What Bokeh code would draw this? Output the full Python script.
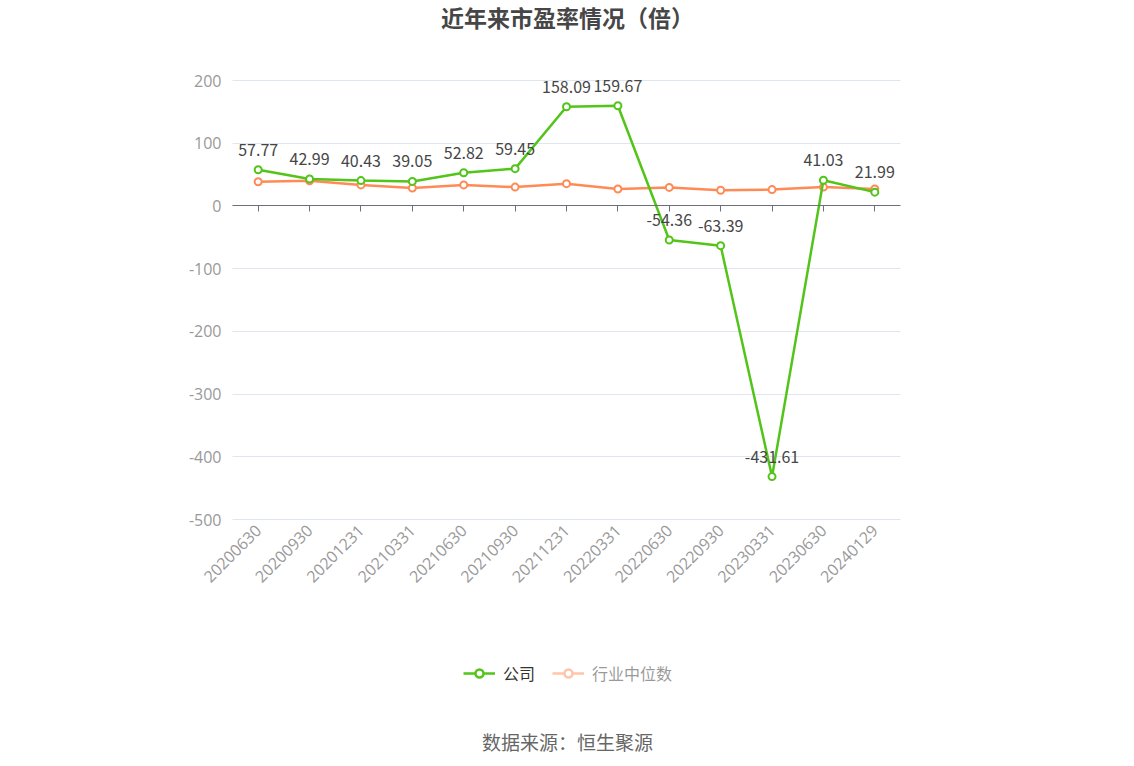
import math
from bokeh.plotting import figure
from bokeh.models import (Range1d, LinearAxis, FixedTicker, Legend, LegendItem,
                          Label, ColumnDataSource, Grid)
from bokeh.core.properties import value
from bokeh.embed import file_html
from bokeh.resources import INLINE

# ---- data ----
dates = ["20200630", "20200930", "20201231", "20210331", "20210630", "20210930",
         "20211231", "20220331", "20220630", "20220930", "20230331", "20230630",
         "20240129"]
company_pe = [57.77, 42.99, 40.43, 39.05, 52.82, 59.45, 158.09, 159.67,
              -54.36, -63.39, -431.61, 41.03, 21.99]
industry_pe = [38.5, 40.0, 33.5, 28.5, 33.5, 30.0, 35.5, 27.0, 29.5, 25.0, 26.0, 30.0, 27.0]
y_ticks = [-500, -400, -300, -200, -100, 0, 100, 200]
title_text = "近年来市盈率情况（倍）"
source_text = "数据来源：恒生聚源"
series_names = ["公司", "行业中位数"]

FONT = "Noto Sans CJK SC"
NUM_FONT = "Open Sans"
GREEN = "#52C41A"
ORANGE = "#FF8A55"
AXIS_GRAY = "#999999"

# ---- layout constants (pixels) ----
W, H = 1130, 760
PLOT_LEFT, PLOT_W = 232, 668
PLOT_TOP, PLOT_H = 80, 439
n = len(dates)
step = PLOT_W / n
x_start = -0.5 - PLOT_LEFT / step
x_end = x_start + W / step
Y_MIN, Y_MAX = min(y_ticks), max(y_ticks)
ppu = PLOT_H / (Y_MAX - Y_MIN)
y_end = Y_MAX + PLOT_TOP / ppu
y_start = y_end - H / ppu
cx = PLOT_LEFT + PLOT_W / 2

idx = list(range(n))
src = ColumnDataSource(dict(x=idx, company=company_pe, industry=industry_pe,
                            lbl=[f"{v:.2f}" for v in company_pe]))

p = figure(frame_width=W, frame_height=H, min_border=0,
           x_range=Range1d(x_start, x_end), y_range=Range1d(y_start, y_end),
           x_axis_location=None, y_axis_location=None,
           output_backend="svg", toolbar_location=None,
           background_fill_color="white", border_fill_color="white")
p.outline_line_color = None
# drop the default grids
p.center = [r for r in p.center if not isinstance(r, Grid)]
p.renderers = [r for r in p.renderers if not isinstance(r, Grid)]

# horizontal grid lines over the value region only
grid = Grid(dimension=1, ticker=FixedTicker(ticks=y_ticks), grid_line_color="#E0E6F1")
try:
    grid.cross_bounds = (-0.5, n - 0.5)
    p.add_layout(grid)
except Exception:
    p.segment(x0=-0.5, x1=n - 0.5, y0=y_ticks, y1=y_ticks, line_color="#E0E6F1")

# y axis (value labels)
y_axis = LinearAxis(fixed_location=-0.5, ticker=FixedTicker(ticks=y_ticks),
                    major_label_overrides={t: str(t) for t in y_ticks},
                    axis_line_color=None, major_tick_line_color=None,
                    minor_tick_line_color=None, major_tick_out=0, major_tick_in=0,
                    major_label_standoff=11, major_label_text_font=NUM_FONT,
                    major_label_text_font_size="16px", major_label_text_color=AXIS_GRAY)
p.add_layout(y_axis, "left")

# category labels along the bottom of the value region
cat_axis = LinearAxis(fixed_location=Y_MIN, ticker=FixedTicker(ticks=idx),
                      major_label_overrides={i: d for i, d in zip(idx, dates)},
                      axis_line_color=None, major_tick_line_color=None,
                      minor_tick_line_color=None, major_tick_out=0, major_tick_in=0,
                      major_label_standoff=8, major_label_orientation=math.pi / 4,
                      major_label_text_font=NUM_FONT, major_label_text_font_size="16px",
                      major_label_text_color=AXIS_GRAY)
p.add_layout(cat_axis, "below")

# zero axis line with ticks
zero_axis = LinearAxis(fixed_location=0, ticker=FixedTicker(ticks=idx), bounds=(-0.5, n - 0.5),
                       major_label_overrides={i: "" for i in idx},
                       axis_line_color="#6E7079", axis_line_width=1,
                       major_tick_line_color="#6E7079", major_tick_in=0, major_tick_out=6,
                       minor_tick_line_color=None, major_label_text_font_size="1px")
p.add_layout(zero_axis, "below")

# series
p.line("x", "industry", source=src, line_color=ORANGE, line_width=2.5)
p.scatter("x", "industry", source=src, marker="circle", size=7,
          fill_color="white", line_color=ORANGE, line_width=2)
p.line("x", "company", source=src, line_color=GREEN, line_width=2.5)
p.scatter("x", "company", source=src, marker="circle", size=7,
          fill_color="white", line_color=GREEN, line_width=2)

# hidden copies used only for legend icons
gl_h = p.line("x", "company", source=src, line_color=GREEN, line_width=2.5, visible=False)
gs_h = p.scatter("x", "company", source=src, marker="circle", size=13,
                 fill_color="white", line_color=GREEN, line_width=2.5, visible=False)
ol_h = p.line("x", "industry", source=src, line_color=ORANGE, line_width=2.5, visible=False)
os_h = p.scatter("x", "industry", source=src, marker="circle", size=13,
                 fill_color="white", line_color=ORANGE, line_width=2.5, visible=False)

# data labels
p.text("x", "company", text="lbl", source=src, y_offset=-14,
       text_align="center", text_baseline="bottom",
       text_font=value(FONT), text_font_size="16px", text_color="#464646")

leg_style = dict(orientation="horizontal", background_fill_alpha=0,
                 border_line_color=None, padding=0, margin=0, spacing=16,
                 glyph_width=32, glyph_height=20, label_standoff=8,
                 label_text_font=FONT, label_text_font_size="16px",
                 label_text_color="#333333", label_height=20)
legend1 = Legend(items=[LegendItem(label=series_names[0], renderers=[gl_h, gs_h])],
                 location=(463, H - 685), click_policy="none", **leg_style)
legend2 = Legend(items=[LegendItem(label=series_names[1], renderers=[ol_h, os_h])],
                 location=(552, H - 685), click_policy="hide",
                 inactive_fill_color="white", inactive_fill_alpha=0.5, **leg_style)
p.add_layout(legend1)
p.add_layout(legend2)

p.add_layout(Label(x=cx + 1, y=H - 16, x_units="screen", y_units="screen",
                   text=title_text, text_align="center", text_baseline="middle",
                   text_font=FONT, text_font_size="23px", text_font_style="bold",
                   text_color="#464646"))
p.add_layout(Label(x=cx + 1, y=H - 741, x_units="screen", y_units="screen",
                   text=source_text, text_align="center", text_baseline="middle",
                   text_font=FONT, text_font_size="19px", text_color="#666666"))

open("out.html", "w").write(file_html(p, INLINE))
